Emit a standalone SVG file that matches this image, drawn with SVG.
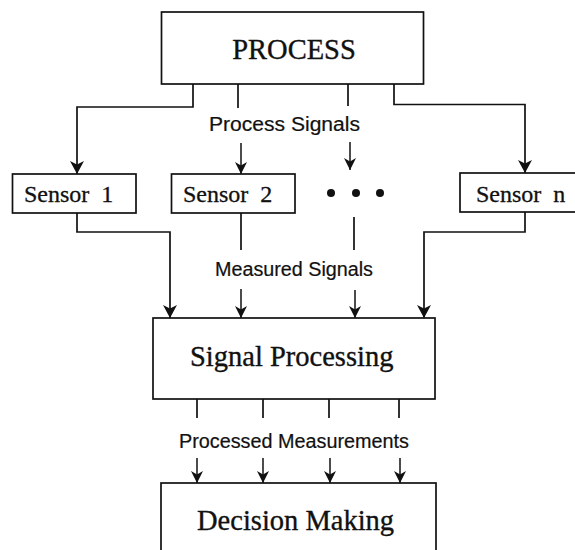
<svg xmlns="http://www.w3.org/2000/svg" width="575" height="550" viewBox="0 0 575 550">
<style>
.box{fill:#fff;stroke:#111;stroke-width:1.7}
.big{font-family:"Liberation Serif","Times New Roman",serif;font-size:28.5px;fill:#111;stroke:#111;stroke-width:0.35}
.sen{font-family:"Liberation Serif","Times New Roman",serif;font-size:24px;fill:#111;stroke:#111;stroke-width:0.3;word-spacing:6px}
.lbl{font-family:"Liberation Sans",Arial,sans-serif;font-size:19.5px;fill:#111;stroke:#111;stroke-width:0.2}
.ln{fill:none;stroke:#111;stroke-width:1.7}
.la{fill:none;stroke:#111;stroke-width:1.7;marker-end:url(#ab)}
.sa{fill:none;stroke:#111;stroke-width:1.5;marker-end:url(#as)}
</style>
<defs>
<marker id="ab" markerUnits="userSpaceOnUse" viewBox="-1 -8 16 16" refX="13" refY="0" markerWidth="16" markerHeight="16" orient="auto">
<path d="M0,-7 L13,0 L0,7 L3.5,0 z" fill="#111"/>
</marker>
<marker id="as" markerUnits="userSpaceOnUse" viewBox="-1 -7 14 14" refX="12" refY="0" markerWidth="14" markerHeight="14" orient="auto">
<path d="M0,-6 L12,0 L0,6 L3.5,0 z" fill="#111"/>
</marker>
</defs>
<g id="connectors">
<path class="la" d="M193,84 V107 H77 V174"/>
<path class="ln" d="M238,84 V108"/>
<path class="sa" d="M241,143 V174"/>
<path class="ln" d="M348,84 V106"/>
<path class="sa" d="M350,142 V170"/>
<path class="la" d="M394,84 V104.5 H525 V173"/>
<path class="la" d="M77,213 V232 H170 V318"/>
<path class="ln" d="M241,213 V250"/>
<path class="sa" d="M241,289 V318"/>
<path class="ln" d="M354,217 V250"/>
<path class="sa" d="M355,290 V318"/>
<path class="la" d="M525,212 V232 H424 V318"/>
<path class="ln" d="M197,399 V418 M263,399 V418 M329,399 V418 M399,399 V418"/>
<path class="sa" d="M197,458 V483"/>
<path class="sa" d="M263,458 V483"/>
<path class="sa" d="M330,458 V483"/>
<path class="sa" d="M400,458 V483"/>
<text class="lbl" x="209" y="131" textLength="151" lengthAdjust="spacingAndGlyphs">Process Signals</text>
<text class="lbl" x="215" y="276" textLength="158" lengthAdjust="spacingAndGlyphs">Measured Signals</text>
<text class="lbl" x="179" y="448" textLength="230" lengthAdjust="spacingAndGlyphs">Processed Measurements</text>
</g>
<g id="process">
<rect class="box" x="161.5" y="12" width="262" height="72"/>
<text class="big" x="294" y="59" text-anchor="middle">PROCESS</text>
</g>
<g id="sensor1">
<rect class="box" x="12.5" y="174" width="123.5" height="39"/>
<text class="sen" x="24" y="202">Sensor 1</text>
</g>
<g id="sensor2">
<rect class="box" x="171.5" y="174" width="123.5" height="39"/>
<text class="sen" x="183" y="202">Sensor 2</text>
</g>
<g id="ellipsis">
<circle cx="331" cy="193" r="4" fill="#111"/>
<circle cx="356" cy="193" r="4" fill="#111"/>
<circle cx="380" cy="193" r="4" fill="#111"/>
</g>
<g id="sensorn">
<rect class="box" x="460" y="173" width="130" height="39"/>
<text class="sen" x="476" y="202">Sensor n</text>
</g>
<g id="signal-processing">
<rect class="box" x="153" y="318" width="282" height="81"/>
<text class="big" x="190" y="366">Signal Processing</text>
</g>
<g id="decision-making">
<rect class="box" x="161" y="483" width="275" height="90"/>
<text class="big" x="197" y="530">Decision Making</text>
</g>
</svg>
